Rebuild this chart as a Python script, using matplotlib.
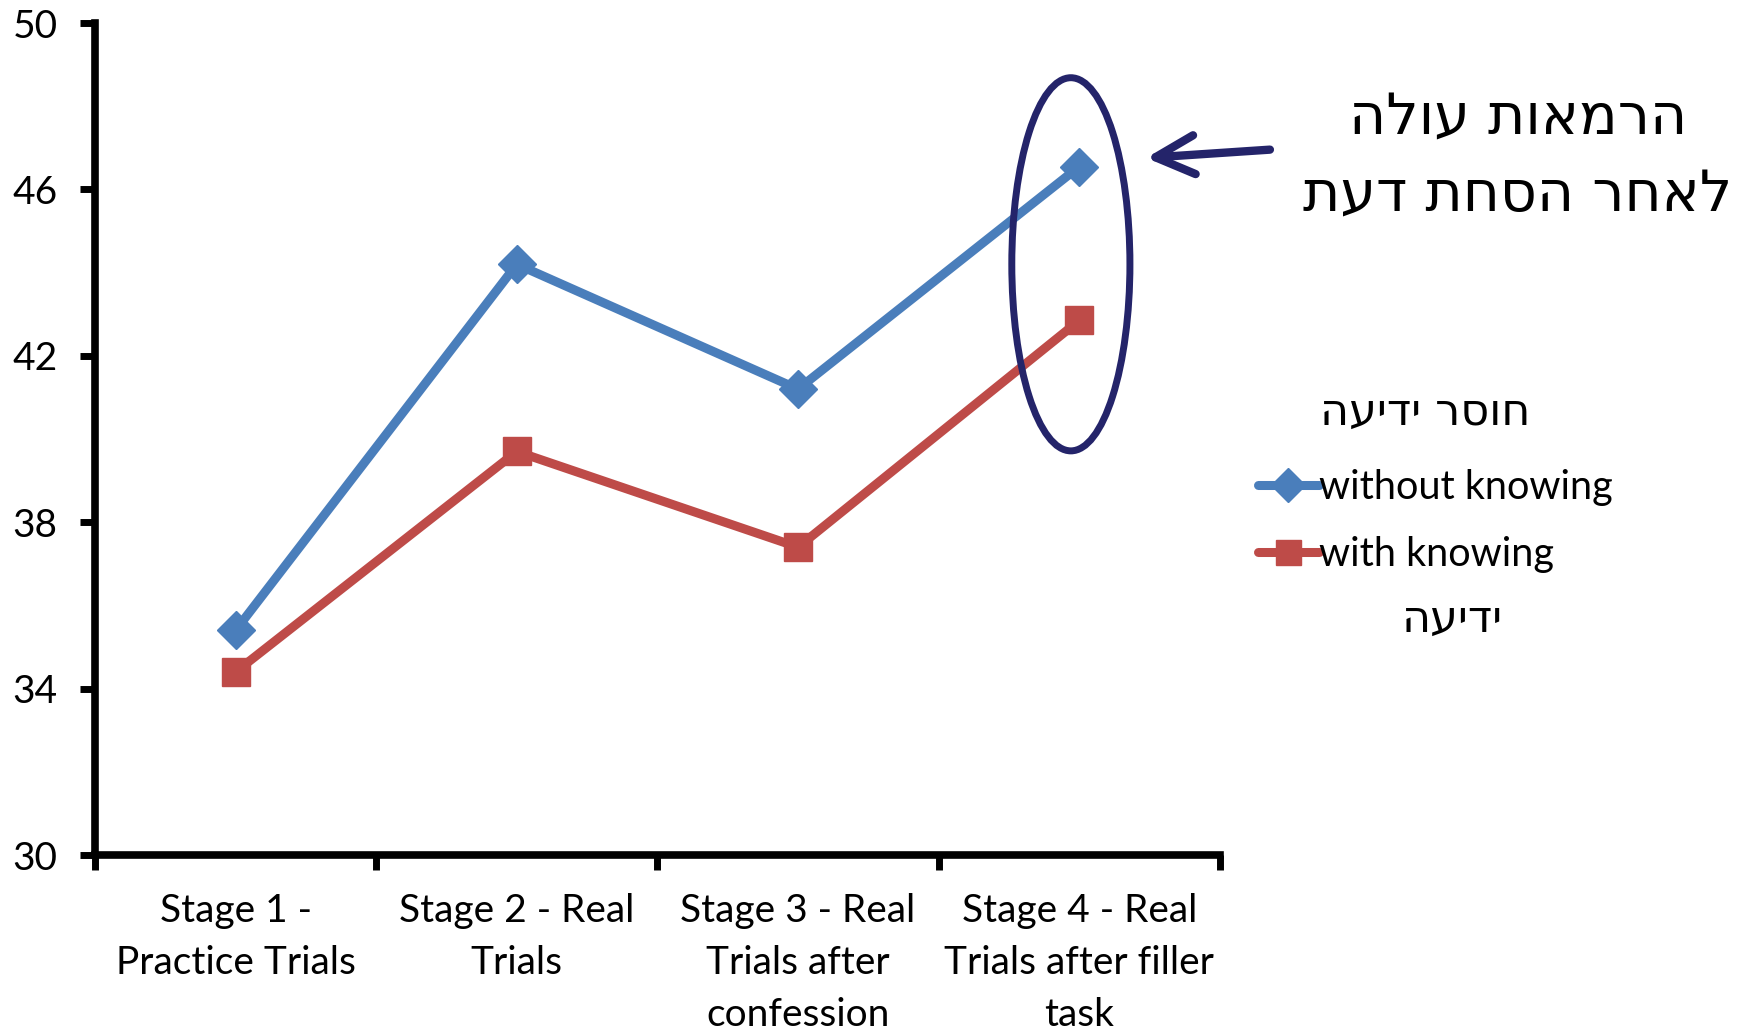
import numpy as np
import matplotlib
matplotlib.use("Agg")
import matplotlib.pyplot as plt
from matplotlib.patches import Ellipse
from matplotlib.lines import Line2D

plt.rcParams['font.family'] = ['Lato', 'DejaVu Sans']

# data
stages = ["Stage 1 -\nPractice Trials", "Stage 2 - Real\nTrials",
          "Stage 3 - Real\nTrials after\nconfession",
          "Stage 4 - Real\nTrials after filler\ntask"]
without_knowing = [35.4, 44.2, 41.2, 46.55]
with_knowing = [34.4, 39.7, 37.4, 42.85]
y_ticks = [30, 34, 38, 42, 46, 50]

note_line1 = "הרמאות עולה"
note_line2 = "לאחר הסחת דעת"
legend_top = "חוסר ידיעה"
legend_bottom = "ידיעה"

blue = "#4A7EBB"
red = "#BE4B48"
navy = "#24246A"


def rtl(s):
    # matplotlib has no bidi support, so flip hebrew for display
    return s[::-1]


fig = plt.figure(figsize=(17.42, 10.32), dpi=100)
ax = fig.add_axes([0.0545, 0.1715, 0.6458, 0.8062])

x = np.arange(len(stages))
ax.plot(x, without_knowing, color=blue, lw=6.5, marker='D', ms=19,
        solid_capstyle='round', solid_joinstyle='round', zorder=3)
ax.plot(x, with_knowing, color=red, lw=6.5, marker='s', ms=20,
        solid_capstyle='round', solid_joinstyle='round', zorder=3)

ax.set_xlim(-0.5, len(stages) - 0.5)
ax.set_ylim(30, 50)
ax.set_yticks(y_ticks)
ax.set_xticks(np.arange(len(stages) + 1) - 0.5)
ax.set_xticklabels([])
ax.set_xticks(x, minor=True)
ax.set_xticklabels(stages, minor=True, fontsize=28, linespacing=1.56)
ax.tick_params(axis='x', which='minor', length=0, pad=27)
ax.tick_params(axis='x', which='major', length=11, width=5)
ax.tick_params(axis='y', length=11, width=5, labelsize=28, pad=16)

for side in ['top', 'right']:
    ax.spines[side].set_visible(False)
for side in ['left', 'bottom']:
    ax.spines[side].set_linewidth(5.5)

# highlight around stage 4
ax.add_patch(Ellipse((2.97, 44.2), 0.42, 8.97, fill=False, ec=navy, lw=5,
                     zorder=4))
ax.annotate("", xy=(0.658, 0.847), xycoords='figure fraction',
            xytext=(0.729, 0.855), textcoords='figure fraction',
            arrowprops=dict(arrowstyle='->, head_length=1.4, head_width=0.7',
                            mutation_scale=20, shrinkA=0, shrinkB=0,
                            color=navy, lw=6, capstyle='round',
                            joinstyle='round'))

fig.text(0.8715, 0.886, rtl(note_line1), fontsize=41, ha='center', va='center',
         family='DejaVu Sans')
fig.text(0.871, 0.811, rtl(note_line2), fontsize=41, ha='center', va='center',
         family='DejaVu Sans')

fig.text(0.818, 0.600, rtl(legend_top), fontsize=32, ha='center', va='center',
         family='DejaVu Sans')
fig.text(0.834, 0.400, rtl(legend_bottom), fontsize=32, ha='center', va='center',
         family='DejaVu Sans')

h1 = Line2D([], [], color=blue, lw=6.5, marker='D', ms=17, solid_capstyle='round')
h2 = Line2D([], [], color=red, lw=6.5, marker='s', ms=18, solid_capstyle='round')
fig.legend([h1, h2], ["without knowing", "with knowing"], loc='center left',
           bbox_to_anchor=(0.722, 0.495), frameon=False, fontsize=28.5,
           handlelength=1.55, handletextpad=0.0, labelspacing=0.75,
           borderpad=0, borderaxespad=0)

fig.savefig("out.png", dpi=100)
